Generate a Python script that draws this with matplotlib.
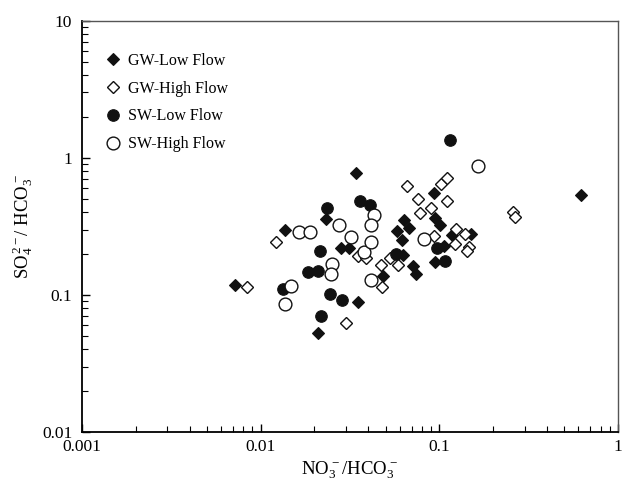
import numpy as np
import matplotlib
matplotlib.use("Agg")
import matplotlib.pyplot as plt
from matplotlib import ticker

plt.rcParams["font.family"] = ["Liberation Serif", "DejaVu Serif"]
plt.rcParams["mathtext.fontset"] = "custom"
plt.rcParams["mathtext.rm"] = "Liberation Serif"
plt.rcParams["mathtext.it"] = "Liberation Serif:italic"

# NO3/HCO3 (x) and SO4/HCO3 (y) ratios
gw_low_x = [0.0072, 0.0137, 0.021, 0.0233, 0.034, 0.028, 0.0314, 0.035, 0.0485, 0.0625,
            0.0634, 0.068, 0.0577, 0.062, 0.0714, 0.074, 0.093, 0.094, 0.101, 0.106,
            0.095, 0.117, 0.151, 0.62]
gw_low_y = [0.119, 0.30, 0.0525, 0.355, 0.77, 0.22, 0.221, 0.089, 0.138, 0.195,
            0.35, 0.31, 0.293, 0.253, 0.163, 0.143, 0.55, 0.366, 0.323, 0.227,
            0.175, 0.275, 0.28, 0.534]

gw_high_x = [0.0084, 0.0122, 0.030, 0.035, 0.039, 0.047, 0.048, 0.053, 0.0585, 0.066,
             0.076, 0.078, 0.090, 0.093, 0.102, 0.110, 0.111, 0.124, 0.139, 0.147,
             0.142, 0.258, 0.265, 0.122]
gw_high_y = [0.114, 0.245, 0.0625, 0.193, 0.185, 0.165, 0.114, 0.185, 0.165, 0.62,
             0.50, 0.395, 0.43, 0.268, 0.64, 0.71, 0.487, 0.303, 0.28, 0.225,
             0.21, 0.404, 0.372, 0.234]

sw_low_x = [0.0133, 0.0183, 0.021, 0.0216, 0.0217, 0.0235, 0.0243, 0.0284, 0.036, 0.041,
            0.0574, 0.0966, 0.108, 0.115]
sw_low_y = [0.111, 0.147, 0.149, 0.208, 0.070, 0.43, 0.102, 0.0925, 0.485, 0.45,
            0.199, 0.219, 0.178, 1.36]

sw_high_x = [0.0137, 0.0148, 0.0163, 0.019, 0.025, 0.0247, 0.0275, 0.032, 0.038, 0.0413,
             0.0433, 0.0413, 0.0414, 0.082, 0.165]
sw_high_y = [0.0855, 0.116, 0.287, 0.29, 0.1675, 0.143, 0.323, 0.264, 0.206, 0.244,
             0.38, 0.323, 0.129, 0.256, 0.865]

fig = plt.figure(figsize=(6.22, 4.84), dpi=100)
ax = fig.add_axes([0.1318, 0.1074, 0.8618, 0.8498])

ax.plot(gw_low_x, gw_low_y, "D", ms=6.3, mfc="#111111", mec="#111111", mew=0.8,
        ls="none", label="GW-Low Flow")
ax.plot(gw_high_x, gw_high_y, "D", ms=6.3, mfc="white", mec="#111111", mew=1.0,
        ls="none", label="GW-High Flow")
ax.plot(sw_low_x, sw_low_y, "o", ms=8.3, mfc="#111111", mec="#111111", mew=0.8,
        ls="none", label="SW-Low Flow")
ax.plot(sw_high_x, sw_high_y, "o", ms=9.2, mfc="white", mec="#111111", mew=1.0,
        ls="none", label="SW-High Flow")

ax.set_xscale("log")
ax.set_yscale("log")
ax.set_xlim(0.001, 1)
ax.set_ylim(0.01, 10)

fmt = ticker.FuncFormatter(lambda v, p: "%g" % v)
ax.xaxis.set_major_formatter(fmt)
ax.yaxis.set_major_formatter(fmt)
ax.xaxis.set_minor_locator(ticker.LogLocator(base=10, subs=np.arange(2, 10)))
ax.yaxis.set_minor_locator(ticker.LogLocator(base=10, subs=np.arange(2, 10)))
ax.xaxis.set_minor_formatter(ticker.NullFormatter())
ax.yaxis.set_minor_formatter(ticker.NullFormatter())

ax.tick_params(which="both", direction="in", top=False, right=False,
               labelsize=12.5, color="black")
ax.tick_params(which="major", length=6, width=1.0)
ax.tick_params(which="minor", length=4, width=0.8)
ax.tick_params(axis="y", pad=7)
ax.tick_params(axis="x", pad=5)

for s in ["left", "bottom"]:
    ax.spines[s].set_linewidth(1.3)
    ax.spines[s].set_color("black")
for s in ["top", "right"]:
    ax.spines[s].set_linewidth(1.0)
    ax.spines[s].set_color("#555555")

ax.set_xlabel(r"$\mathrm{NO_3^{\,-}/HCO_3^{\,-}}$", fontsize=13.5, labelpad=3)
ax.set_ylabel(r"$\mathrm{SO_4^{\,2-}/\ HCO_3^{\,-}}$", fontsize=13.5, labelpad=5)

ax.legend(loc="upper left", bbox_to_anchor=(0.043, 0.922), frameon=False,
          fontsize=11.5, handlelength=1.0, handletextpad=0.45, labelspacing=0.74,
          borderpad=0, borderaxespad=0, numpoints=1)

fig.savefig("out.png", dpi=100)
